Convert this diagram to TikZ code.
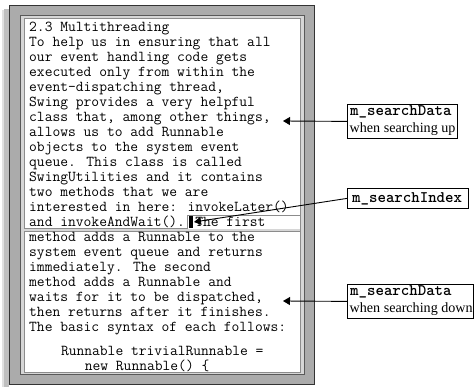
\documentclass[tikz,border=0pt]{standalone}
\usepackage{fontspec}
\setmainfont{Liberation Serif}
\usetikzlibrary{arrows.meta}
\definecolor{bandgray}{HTML}{ABABAB}
\definecolor{stripgray}{HTML}{D6D6D6}
\definecolor{panegray}{HTML}{8C8C8C}
\tikzset{
  body/.style={anchor=base west, inner sep=0pt, text=black, font=\fontsize{15.12}{15}\ttfamily},
  lblbox/.style={draw=black, line width=0.8pt, fill=white, inner sep=0pt, anchor=north west},
  lblmono/.style={anchor=base west, inner sep=0pt, font=\fontsize{16.1}{17}\ttfamily\bfseries},
  lblserif/.style={anchor=base west, inner sep=0pt, font=\fontsize{14.1}{16}\selectfont},
  arr/.style={draw=black, line width=0.9pt, -{Triangle[length=7pt,width=8pt]}},
  paneline/.style={draw=panegray, line width=1pt}
}
\begin{document}
\begin{tikzpicture}[x=1pt,y=-1pt]
\useasboundingbox (0,0) rectangle (474,387);
% shadow
\fill[black!12] (2,10) rectangle (4,387);
\fill[black!25] (4,9) rectangle (9,387);
% outer frame band
\fill[bandgray, draw=black!80, line width=1.2pt] (9.6,5.6) rectangle (314.4,384.6);
% strip and inner white
\fill[stripgray, draw=black!65, line width=0.9pt] (20,15) rectangle (304,374.5);
\fill[white, draw=panegray, line width=0.9pt] (24,18.5) rectangle (300,372);
% pane separator band
\fill[stripgray] (24,229) rectangle (300,232);
\draw[paneline] (24,229) -- (187,229);
\draw[paneline] (24,232) -- (300,232);
\draw[paneline] (187,229) -- (187,215.5) -- (300,215.5);
% body text
\foreach \t [count=\i] in {
  {2.3 Multithreading},
  {To help us in ensuring that all},
  {our event handling code gets},
  {executed only from within the},
  {event-dispatching thread,},
  {Swing provides a very helpful},
  {class that, among other things,},
  {allows us to add Runnable},
  {objects to the system event},
  {queue. This class is called},
  {SwingUtilities and it contains},
  {two methods that we are},
  {interested in here: invokeLater()},
  {and invokeAndWait(). The first},
  {method adds a Runnable to the},
  {system event queue and returns},
  {immediately. The second},
  {method adds a Runnable and},
  {waits for it to be dispatched,},
  {then returns after it finishes.},
  {The basic syntax of each follows:}}
  \node[body] (l\i) at (29,{31.5+(\i-1)*15}) {\t};
\node[body] (l23) at (60.8,355.5) {Runnable trivialRunnable =};
\node[body] (l24) at (84.6,370.3) {new Runnable() \{};
% caret
\fill[black] (189.3,216.5) rectangle (192.8,228.5);
\coordinate (caretTip) at (194,222);
% label boxes
\node[lblbox, minimum width=110pt, minimum height=34pt] (up) at (347,104) {};
\node[lblmono] (upT) at (350,116) {m\_searchData};
\node[lblserif] (upS) at (349.5,133) {when searching up};
\node[lblbox, minimum width=121pt, minimum height=20pt] (idx) at (347,188) {};
\node[lblmono] (idxT) at (352,202.5) {m\_searchIndex};
\node[lblbox, minimum width=126pt, minimum height=34pt] (dn) at (347,284) {};
\node[lblmono] (dnT) at (350,296) {m\_searchData};
\node[lblserif] (dnS) at (349.5,313) {when searching down};
% arrows
\coordinate (upTip) at (283,121);
\coordinate (dnTip) at (283,301);
\draw[arr] (up.west) -- (upTip);
\draw[arr] (idx.west) -- (caretTip);
\draw[arr] (dn.west) -- (dnTip);
\end{tikzpicture}
\end{document}
